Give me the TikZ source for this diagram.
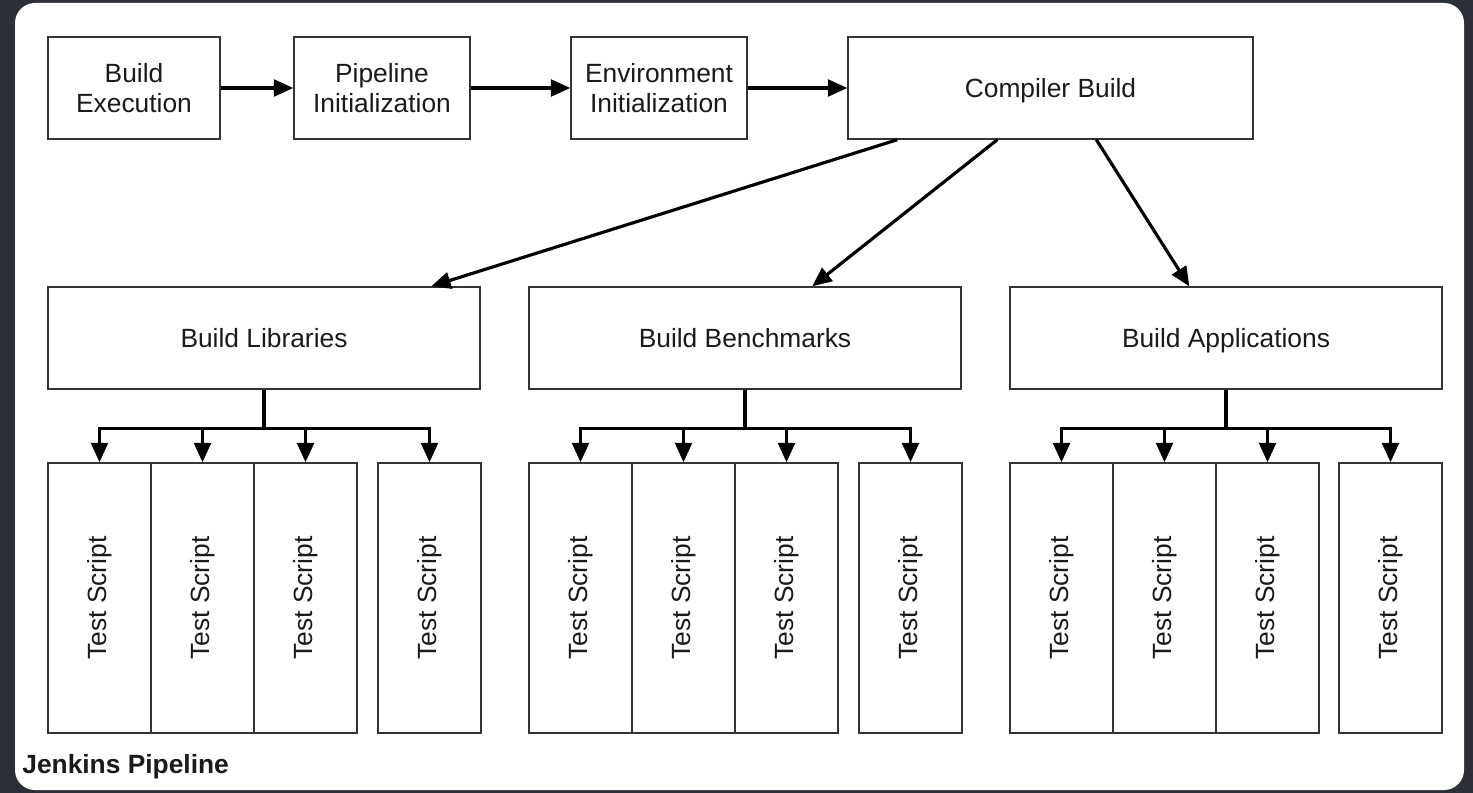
\documentclass[tikz,border=0pt]{standalone}
\usepackage{fontspec}
\setmainfont{Liberation Sans}
\usetikzlibrary{arrows.meta,calc}
\definecolor{frame}{HTML}{2B2F36}
\definecolor{ink}{HTML}{1A1A1A}
\definecolor{edge}{HTML}{333333}
\tikzset{
  pbox/.style 2 args={draw=edge, line width=0.8pt, fill=white, inner sep=0pt,
    minimum width=#1*0.02cm, minimum height=#2*0.02cm, align=center,
    text=ink, font=\fontsize{15pt}{17pt}\selectfont},
  oneline/.style={text height=10.8pt, text depth=0pt},
  tbox/.style={pbox={103}{270}},
  tlabel/.style={rotate=90, text=ink, font=\fontsize{15pt}{17pt}\selectfont},
  arr/.style={draw=black, line width=1.8pt, -{Triangle[length=11pt,width=9.5pt]}},
  link/.style={draw=black, line width=1.8pt}
}
\begin{document}
\begin{tikzpicture}[x=0.02cm, y=-0.02cm]
  % dark surround and white rounded panel
  \fill[frame] (0,0) rectangle (1473,793);
  \useasboundingbox (0,0) rectangle (1473,793);
  \fill[white, rounded corners=0.4cm] (15,3) rectangle (1464,790);

  % first row: pipeline stages
  \node[pbox={172}{102}] (be) at (134,88) {Build\\Execution};
  \node[pbox={176}{102}] (pi) at (382,88) {Pipeline\\Initialization};
  \node[pbox={176}{102}] (ei) at (659,88) {Environment\\Initialization};
  \node[pbox={405}{102}, oneline] (cb) at (1050.5,88) {Compiler Build};

  \draw[arr] (be) -- (pi);
  \draw[arr] (pi) -- (ei);
  \draw[arr] (ei) -- (cb);

  % second row: build targets
  \node[pbox={432}{102}, oneline] (lib) at (264,338) {Build Libraries};
  \node[pbox={432}{102}, oneline] (ben) at (745,338) {Build Benchmarks};
  \node[pbox={432}{102}, oneline] (app) at (1226,338) {Build Applications};

  \draw[arr] ($(cb.south west)+(50,0)$) -- ($(lib.north west)+(384,0)$);
  \draw[arr] ($(cb.south west)+(150,0)$) -- ($(ben.north west)+(284,0)$);
  \draw[arr] ($(cb.south west)+(249,0)$) -- ($(app.north west)+(180,0)$);

  % test scripts under each build target
  \foreach \g/\p/\a/\b/\c/\d in {lib/l/99.5/202.5/305.5/429.5,
                                ben/b/580.5/683.5/786.5/910.5,
                                app/a/1061.5/1164.5/1267.5/1390.5}{
    \node[tbox] (\p1) at (\a,598) {};
    \node[tbox] (\p2) at (\b,598) {};
    \node[tbox] (\p3) at (\c,598) {};
    \node[tbox] (\p4) at (\d,598) {};
    \foreach \k in {1,2,3,4}{
      \node[tlabel] (\p\k t) at (\p\k) {Test Script};
    }
    \draw[link] (\g.south) -- ($(\g.south)+(0,39)$) coordinate (\p j);
    \foreach \k in {1,2,3,4}{
      \draw[arr] (\p j) -| (\p\k.north);
    }
  }

  % panel caption
  \node[anchor=base west, inner sep=0pt, text=ink,
        font=\fontsize{15pt}{17pt}\selectfont\bfseries] (cap) at (22,773) {Jenkins Pipeline};
\end{tikzpicture}
\end{document}
